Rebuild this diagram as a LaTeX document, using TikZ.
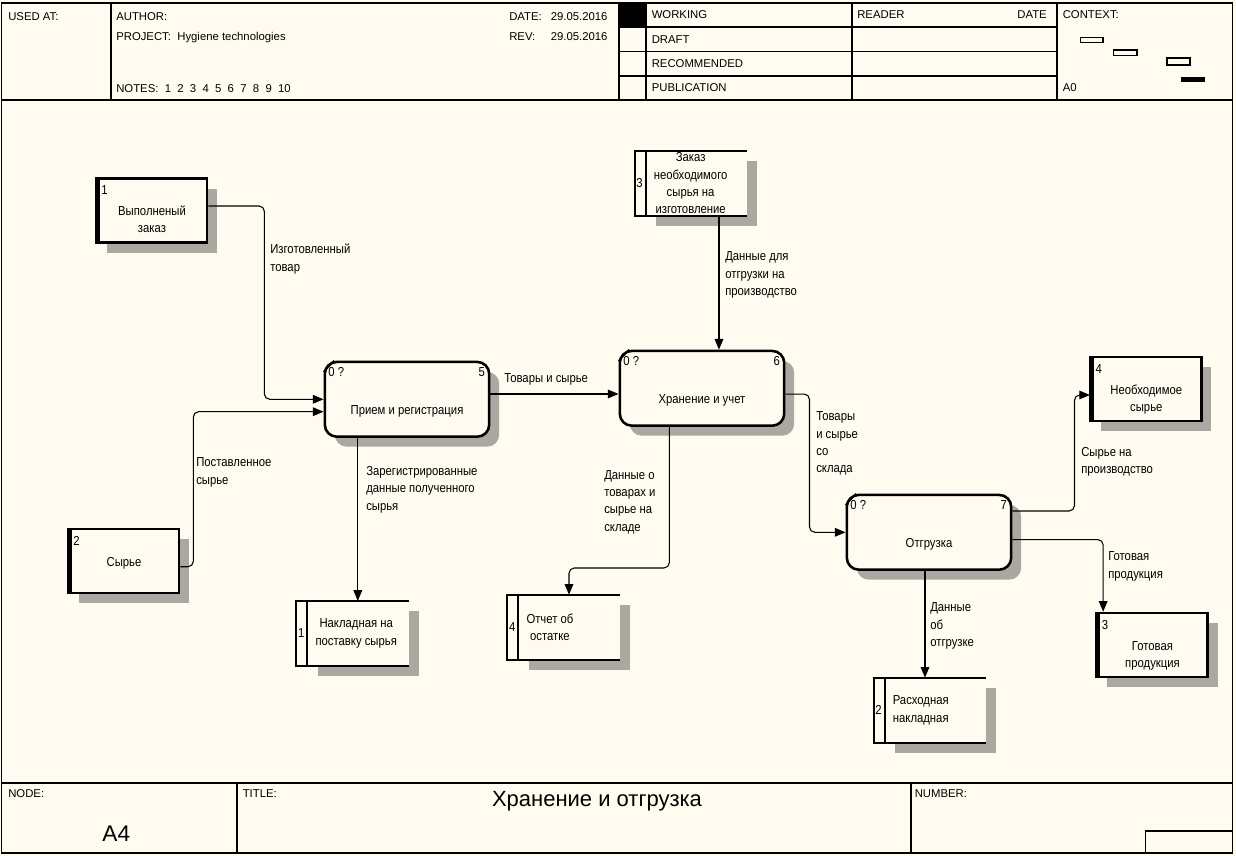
\documentclass[tikz,border=0pt]{standalone}
\usepackage{fontspec}
\setmainfont{Liberation Sans}
\newfontfamily\idef{Liberation Sans}[FakeStretch=0.87]
\usetikzlibrary{arrows.meta,shadows}
\definecolor{paper}{HTML}{FFFBF0}
\colorlet{dither}{black!33!paper}

\begin{document}
\begin{tikzpicture}[x=0.75pt,y=-0.75pt,font=\fontsize{8.5}{10}\selectfont,
  body/.style={font=\idef\fontsize{9.75}{13}\selectfont},
  sheetline/.style={line width=1.1pt},
  head/.style={anchor=base west,inner sep=0pt},
  lbl/.style={body,anchor=north west,inner sep=0pt,align=left},
  dropsh/.style={drop shadow={shadow xshift=7.5pt,shadow yshift=-7.5pt,fill=dither,opacity=1}},
  ext/.style={draw,line width=1.9pt,fill=paper,dropsh,body,minimum width=82.6pt,minimum height=48pt,inner xsep=2pt,text width=76pt,align=center,text height=22.5pt,text depth=15pt},
  proc/.style={draw,line width=1.9pt,rounded corners=9pt,fill=paper,dropsh,body,minimum width=123.3pt,minimum height=56.1pt,text height=25.7pt,text depth=2.5pt},
  store/.style={fill=paper,dropsh,minimum width=75.75pt,minimum height=48.5pt,inner sep=0pt},
  num/.style={body,inner sep=0pt},
  entno/.style={num,anchor=north west,xshift=4pt,yshift=-6.3pt},
  pno/.style={num,anchor=north west,xshift=3.5pt,yshift=-4.7pt},
  pref/.style={num,anchor=north east,xshift=-4pt,yshift=-4.7pt},
  storeno/.style={num,anchor=east,inner xsep=2pt},
  storetxt/.style={body,anchor=west,align=center,inner xsep=6pt,inner ysep=0pt},
  flow/.style={line width=0.8pt,rounded corners=4pt,-{Triangle[length=8pt,width=6.5pt]}}]

% sheet
\useasboundingbox (0,0) rectangle (1236,856);
\fill[paper] (0,0) rectangle (1236,856);

% frame
\draw[sheetline] (1.5,3) rectangle (1232.5,853);
\draw[sheetline] (1.5,100) -- (1232.5,100);
\draw[sheetline] (1.5,783) -- (1232.5,783);
\foreach \x in {111,619,646,852,1057} \draw[sheetline] (\x,3) -- (\x,100);
\foreach \y in {27,51.5,76} \draw[sheetline] (619,\y) -- (1057,\y);
\fill (619,3) rectangle (646,27);
\foreach \x in {237,911} \draw[sheetline] (\x,783) -- (\x,853);
\draw[sheetline] (1145.5,853) |- (1232.5,831);

% header
\foreach \x/\y/\t [count=\i] in {8/20.7/USED AT:, 116/20.7/AUTHOR:, 116/40.7/PROJECT:\ \ Hygiene technologies,
    116/92.3/NOTES:\ \ 1\ \ 2\ \ 3\ \ 4\ \ 5\ \ 6\ \ 7\ \ 8\ \ 9\ \ 10,
    509/20.7/DATE:, 550.5/20.7/29.05.2016, 509/40.7/REV:, 550.5/40.7/29.05.2016,
    651.5/19/WORKING, 651.5/43.3/DRAFT, 651.5/67.7/RECOMMENDED, 651.5/91.7/PUBLICATION,
    857/19/READER, 1062.5/19/CONTEXT:, 1062.5/91.7/A0}
  \node[head] (h\i) at (\x,\y) {\t};
\node[head,anchor=base east] (hdate) at (1047,19) {DATE};

% context
\draw[line width=0.8pt] (1080.5,37.5) rectangle (1103,42.5);
\draw[line width=0.8pt] (1113.5,50) rectangle (1137,55.5);
\draw[line width=0.8pt] (1167,58) rectangle (1190,65);
\fill (1181,77) rectangle (1205,82);

% footer
\node[head] (fnode) at (8,797) {NODE:};
\node[head] (ftitle) at (242.5,797) {TITLE:};
\node[head] (fnumber) at (914.5,797) {NUMBER:};
\node[anchor=base,inner sep=0pt,font=\fontsize{17}{20}\selectfont] (nodeid) at (116.3,841.7) {A4};
\node[anchor=base,inner sep=0pt,font=\fontsize{16.5}{20}\selectfont] (title) at (597,806.7) {Хранение и отгрузка};

% external entities
\node[ext,label={[entno]north west:1}] (e1) at (152,210.5) {Выполненый\\заказ};
\node[ext,label={[entno]north west:2}] (e2) at (124,561) {Сырье};
\node[ext,label={[entno]north west:3}] (e3) at (1152.5,645) {Готовая\\продукция};
\node[ext,label={[entno]north west:4}] (e4) at (1146.3,389) {Необходимое\\сырье};
\foreach \e in {e1,e2,e3,e4}
  \draw[line width=3.75pt] ([xshift=1.1pt]\e.north west) -- ([xshift=1.1pt]\e.south west);

% processes
\node[proc,label={[pno]north west:0 ?},label={[pref]north east:5}] (p1) at (407,399.3) {Прием и регистрация};
\node[proc,label={[pno]north west:0 ?},label={[pref]north east:6}] (p2) at (702,388.3) {Хранение и учет};
\node[proc,label={[pno]north west:0 ?},label={[pref]north east:7}] (p3) at (929,532.3) {Отгрузка};
\foreach \p in {p1,p2,p3}
  \draw[line width=1.2pt] ([yshift=-8.5pt]\p.north west) -- ([xshift=8pt]\p.north west);

% data stores
\node[store,label={[storeno]west:3},label={[storetxt]west:Заказ\\необходимого\\сырья на\\изготовление}] (ds3) at (696.3,183.3) {};
\node[store,label={[storeno]west:1},label={[storetxt]west:Накладная на\\поставку сырья}] (ds1) at (358,633.5) {};
\node[store,label={[storeno]west:4},label={[storetxt]west:Отчет об\\остатке}] (ds4) at (569,627.3) {};
\node[store,label={[storeno]west:2},label={[storetxt]west:Расходная\\накладная}] (ds2) at (935.3,710.3) {};
\foreach \s in {ds1,ds2,ds3,ds4}{
  \draw[line width=1.5pt] (\s.north east) -- ([xshift=-8.25pt]\s.north west) -- ([xshift=-8.25pt]\s.south west) -- (\s.south east);
  \draw[line width=1.5pt] (\s.north west) -- (\s.south west);
}

% flows
\draw[flow] ([yshift=3.4pt]e1.east) -- ++(56,0) |- (p1.west);
\draw[flow] ([yshift=-4.3pt]e2.east) -- ++(13,0) |- ([yshift=-9.3pt]p1.west);
\draw[flow] ([yshift=4pt]p1.east) -- ([yshift=4pt]p1.east -| p2.west);
\draw[flow] ([xshift=17pt]ds3.south) -- ([xshift=17pt]ds3.south |- p2.north);
\draw[flow] ([xshift=-36.9pt]p1.south) -- ([xshift=-36.9pt]p1.south |- ds1.north);
\draw[flow] ([xshift=-24.5pt]p2.south) -- ++(0,141) -| (ds4.north);
\draw[flow] ([yshift=-4.3pt]p2.east) -- ++(24,0) |- (p3.west);
\draw[flow] ([yshift=16pt]p3.east) -- ++(62,0) |- ([yshift=-4.5pt]e4.west);
\draw[flow] ([yshift=-5.5pt]p3.east) -| ([xshift=-37pt]e3.north);
\draw[flow] ([xshift=-3pt]p3.south) -- ([xshift=-3pt]p3.south |- ds2.north);

% flow labels
\node[lbl] (t1) at (270,244) {Изготовленный\\товар};
\node[lbl] (t2) at (196,457.5) {Поставленное\\сырье};
\node[lbl] (t3) at (504,373) {Товары и сырье};
\node[lbl] (t4) at (725,251.7) {Данные для\\отгрузки на\\производство};
\node[lbl] (t5) at (366,466) {Зарегистрированные\\данные полученного\\сырья};
\node[lbl] (t6) at (604,470) {Данные о\\товарах и\\сырье на\\складе};
\node[lbl] (t7) at (816,411.7) {Товары\\и сырье\\со\\склада};
\node[lbl] (t8) at (1081,446.7) {Сырье на\\производство};
\node[lbl] (t9) at (1108,551.7) {Готовая\\продукция};
\node[lbl] (t10) at (930,602.7) {Данные\\об\\отгрузке};

\end{tikzpicture}
\end{document}
